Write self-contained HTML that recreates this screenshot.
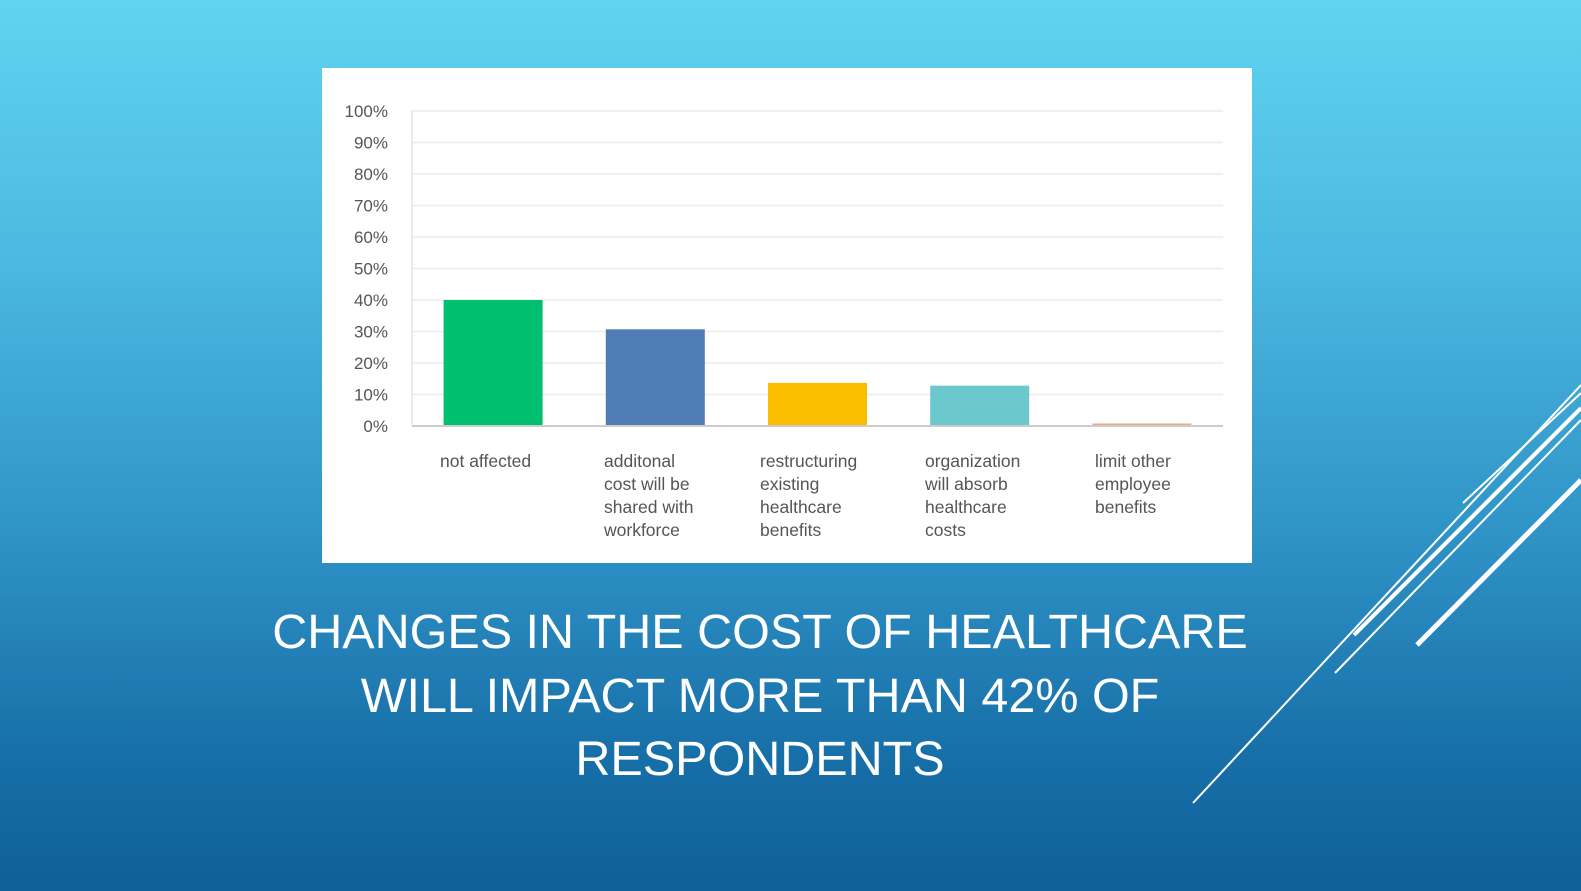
<!DOCTYPE html>
<html><head><meta charset="utf-8"><style>
html,body{margin:0;padding:0;}
body{width:1581px;height:891px;overflow:hidden;position:relative;font-family:"Liberation Sans",sans-serif;
background:linear-gradient(to bottom,#60d4f0 0%,#4ab8e0 30%,#2f93c6 60%,#176fa8 85%,#0f5f98 100%);}
#panel{position:absolute;left:322px;top:68px;width:930px;height:495px;background:#fff;}
#title{position:absolute;left:160px;width:1200px;top:601px;text-align:center;color:#fff;font-size:48.5px;line-height:63.5px;letter-spacing:0px;font-weight:normal;}
svg{position:absolute;left:0;top:0;}
</style></head><body>
<div id="panel"></div>
<svg id="chart" width="1581" height="891"></svg>
<svg width="1581" height="891">
<line x1="1193" y1="803" x2="1581" y2="385" stroke="#fff" stroke-width="2"/>
<line x1="1354" y1="635" x2="1581" y2="408" stroke="#fff" stroke-width="4"/>
<line x1="1335" y1="673" x2="1581" y2="420" stroke="#fff" stroke-width="2"/>
<line x1="1417" y1="645" x2="1581" y2="480" stroke="#fff" stroke-width="5"/>
<line x1="1463" y1="503" x2="1581" y2="393" stroke="#fff" stroke-width="2"/>
</svg>
<div id="title">CHANGES IN THE COST OF HEALTHCARE<br>WILL IMPACT MORE THAN 42% OF<br>RESPONDENTS</div>
<script>
const categories=[["not affected"],["additonal","cost will be","shared with","workforce"],["restructuring","existing","healthcare","benefits"],["organization","will absorb","healthcare","costs"],["limit other","employee","benefits"]];
const values=[40,30.7,13.7,12.8,0.8];
const colors=["#00bf6f","#507cb6","#f9be00","#6bc8cd","#f4a582"];
const ticks=[0,10,20,30,40,50,60,70,80,90,100];
const tickLabels=["0%","10%","20%","30%","40%","50%","60%","70%","80%","90%","100%"];
const NS="http://www.w3.org/2000/svg";
const svg=document.getElementById('chart');
const x0=412,x1=1223,y0=426,yTop=111;
const y=v=>y0-(v/100)*(y0-yTop);
const step=(x1-x0)/categories.length;
const bw=99;
function mk(t,a){const e=document.createElementNS(NS,t);for(const k in a)e.setAttribute(k,a[k]);svg.appendChild(e);return e;}
ticks.forEach((t,i)=>{
  const g=mk('line',{x1:x0,x2:x1,y1:y(t),y2:y(t),stroke:i===0?'#ccc':'#ececec','stroke-width':i===0?2:1.5});
  
  
  const tx=mk('text',{x:388,y:y(t)+6,'text-anchor':'end','font-size':17,fill:'#555','font-family':'Liberation Sans, sans-serif'});
  tx.textContent=tickLabels[i];
  
  
});
const ax=mk('line',{x1:x0,x2:x0,y1:yTop,y2:y0,stroke:'#e3e3e3','stroke-width':1.5});


values.forEach((v,i)=>{
  const cx=x0+step*(i+0.5);
  const r=mk('rect',{x:cx-bw/2,y:y(v),width:bw,height:y0-y(v)-1,fill:colors[i]});
  
  
  const lx=[440,604,760,925,1095][i];
  const t=mk('text',{x:lx,y:467,'font-size':17.5,fill:'#555','font-family':'Liberation Sans, sans-serif'});
  
  
  categories[i].forEach((ln,j)=>{const s=document.createElementNS(NS,'tspan');s.setAttribute('x',lx);s.setAttribute('dy',j?23:0);s.textContent=ln;t.appendChild(s);});
});
</script>
</body></html>
